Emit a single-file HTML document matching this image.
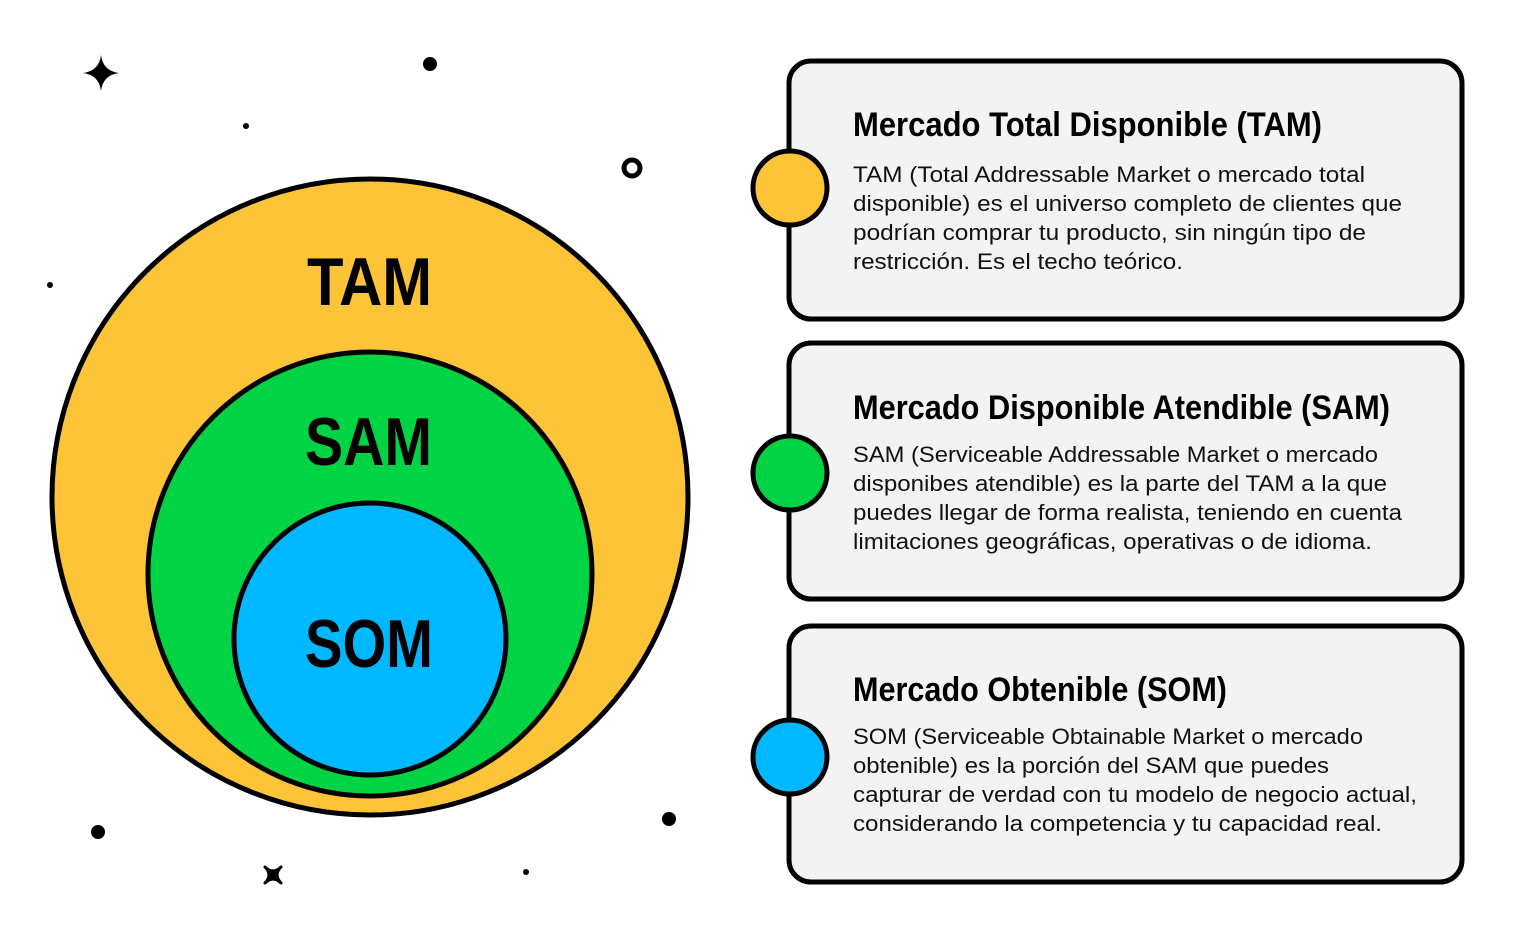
<!DOCTYPE html>
<html><head><meta charset="utf-8"><style>
html,body{margin:0;padding:0;background:#fff;width:1525px;height:941px;overflow:hidden}
text{font-family:"Liberation Sans",sans-serif}
.t{font-weight:bold;font-size:34px;fill:#000}
.b{font-size:22.5px;fill:#111}
.big{font-weight:bold;font-size:68px;fill:#000}
</style></head><body>
<svg width="1525" height="941" xmlns="http://www.w3.org/2000/svg">
<rect width="1525" height="941" fill="#fff"/>
<!-- decorations -->
<path d="M101 55 Q103 71 119 73 Q103 75 101 91 Q99 75 83 73 Q99 71 101 55Z" fill="#000"/>
<circle cx="430" cy="64" r="7"/>
<circle cx="246" cy="126" r="3"/>
<circle cx="632" cy="168" r="8" fill="none" stroke="#000" stroke-width="5"/>
<circle cx="50" cy="285" r="3"/>
<circle cx="98" cy="832" r="7"/>
<circle cx="669" cy="819" r="7"/>
<circle cx="526" cy="872" r="3"/>
<path d="M265 867 Q273 875 281 867 Q273 875 281 883 Q273 875 265 883 Q273 875 265 867Z" fill="#000" stroke="#000" stroke-width="3" stroke-linejoin="round"/>
<!-- circles -->
<circle cx="370" cy="497" r="318" fill="#fdc437" stroke="#000" stroke-width="5"/>
<circle cx="370" cy="574" r="222" fill="#00d444" stroke="#000" stroke-width="5"/>
<circle cx="370" cy="639" r="136" fill="#00b8ff" stroke="#000" stroke-width="5"/>
<text class="big" x="307" y="305" textLength="125" lengthAdjust="spacingAndGlyphs">TAM</text>
<text class="big" x="305" y="465" textLength="127" lengthAdjust="spacingAndGlyphs">SAM</text>
<text class="big" x="305" y="667" textLength="128" lengthAdjust="spacingAndGlyphs">SOM</text>
<!-- boxes -->
<g stroke="#000" stroke-width="5" fill="#f3f3f3">
<rect x="789" y="61" width="673" height="258" rx="22"/>
<rect x="789" y="343" width="673" height="256" rx="22"/>
<rect x="789" y="626" width="673" height="256" rx="22"/>
</g>
<g stroke="#000" stroke-width="5">
<circle cx="790" cy="188" r="37" fill="#fdc437"/>
<circle cx="790" cy="473" r="37" fill="#00d444"/>
<circle cx="790" cy="757" r="37" fill="#00b8ff"/>
</g>
<text class="t" x="853" y="136" textLength="469" lengthAdjust="spacingAndGlyphs">Mercado Total Disponible (TAM)</text>
<text class="b" x="853" y="182" textLength="512" lengthAdjust="spacingAndGlyphs">TAM (Total Addressable Market o mercado total</text>
<text class="b" x="853" y="211" textLength="549" lengthAdjust="spacingAndGlyphs">disponible) es el universo completo de clientes que</text>
<text class="b" x="853" y="240" textLength="513" lengthAdjust="spacingAndGlyphs">podrían comprar tu producto, sin ningún tipo de</text>
<text class="b" x="853" y="269" textLength="330" lengthAdjust="spacingAndGlyphs">restricción. Es el techo teórico.</text>

<text class="t" x="853" y="419" textLength="537" lengthAdjust="spacingAndGlyphs">Mercado Disponible Atendible (SAM)</text>
<text class="b" x="853" y="462" textLength="525" lengthAdjust="spacingAndGlyphs">SAM (Serviceable Addressable Market o mercado</text>
<text class="b" x="853" y="491" textLength="534" lengthAdjust="spacingAndGlyphs">disponibes atendible) es la parte del TAM a la que</text>
<text class="b" x="853" y="520" textLength="549" lengthAdjust="spacingAndGlyphs">puedes llegar de forma realista, teniendo en cuenta</text>
<text class="b" x="853" y="549" textLength="519" lengthAdjust="spacingAndGlyphs">limitaciones geográficas, operativas o de idioma.</text>

<text class="t" x="853" y="701" textLength="374" lengthAdjust="spacingAndGlyphs">Mercado Obtenible (SOM)</text>
<text class="b" x="853" y="744" textLength="510" lengthAdjust="spacingAndGlyphs">SOM (Serviceable Obtainable Market o mercado</text>
<text class="b" x="853" y="773" textLength="476" lengthAdjust="spacingAndGlyphs">obtenible) es la porción del SAM que puedes</text>
<text class="b" x="853" y="802" textLength="564" lengthAdjust="spacingAndGlyphs">capturar de verdad con tu modelo de negocio actual,</text>
<text class="b" x="853" y="831" textLength="529" lengthAdjust="spacingAndGlyphs">considerando la competencia y tu capacidad real.</text>
</svg>
</body></html>
